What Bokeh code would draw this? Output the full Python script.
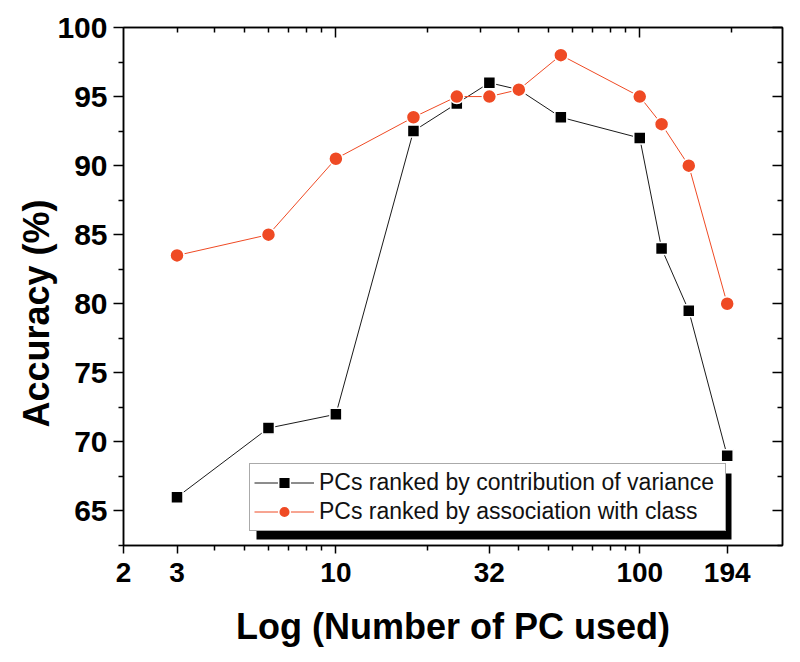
from bokeh.plotting import figure
from bokeh.models import (FixedTicker, LogAxis, LinearAxis, Legend, LegendItem, Range1d,
                          CustomJSTickFormatter, NumeralTickFormatter, BoxAnnotation, Title)
from bokeh.embed import file_html
from bokeh.resources import INLINE

# ---- data ----
pcs = [3, 6, 10, 18, 25, 32, 40, 55, 100, 118, 145, 194]
acc_variance = [66, 71, 72, 92.5, 94.5, 96, 95.5, 93.5, 92, 84, 79.5, 69]
acc_class = [83.5, 85, 90.5, 93.5, 95, 95, 95.5, 98, 95, 93, 90, 80]

label_variance = "PCs ranked by contribution of variance"
label_class = "PCs ranked by association with class"

x_major = [2, 3, 10, 32, 100, 194]
x_minor = [4, 5, 6, 7, 8, 9, 20, 40, 50, 60, 70, 80, 90]
top_major = [10, 100]
top_minor = [3, 4, 5, 6, 7, 8, 9, 20, 30, 40, 50, 60, 70, 80, 90, 200]
y_major = [65, 70, 75, 80, 85, 90, 95, 100]
y_minor = [62.5, 67.5, 72.5, 77.5, 82.5, 87.5, 92.5, 97.5]

RED = "#EF4A24"
BLACK = "#000000"
FONT = "Liberation Sans"

p = figure(width=800, height=662, x_axis_type="log",
           x_range=Range1d(2, 295), y_range=Range1d(62.5, 100),
           output_backend="svg", toolbar_location=None,
           min_border_left=123, min_border_right=18,
           min_border_top=27, min_border_bottom=117)
p.grid.visible = False
p.outline_line_color = "black"
p.outline_line_width = 1.5
p.background_fill_color = "white"
p.border_fill_color = "white"

# ---- bottom axis ----
xa = p.xaxis[0]
xa.ticker = FixedTicker(ticks=x_major, minor_ticks=x_minor)
xa.formatter = NumeralTickFormatter(format="0")
xa.major_tick_out = 8
xa.major_tick_in = 0
xa.minor_tick_out = 5
xa.minor_tick_in = 0
xa.axis_line_width = 1.5
xa.major_tick_line_width = 1.5
xa.minor_tick_line_width = 1.5
xa.major_label_text_font = FONT
xa.major_label_text_font_style = "bold"
xa.major_label_text_font_size = "28px"
xa.major_label_text_color = "black"
xa.major_label_standoff = 9
xa.axis_label = "Log (Number of PC used)"
xa.axis_label_text_font = FONT
xa.axis_label_text_font_style = "bold"
xa.axis_label_text_font_size = "36px"
xa.axis_label_text_color = "black"
xa.axis_label_standoff = 21

# ---- left axis ----
ya = p.yaxis[0]
ya.ticker = FixedTicker(ticks=y_major, minor_ticks=y_minor)
ya.major_tick_out = 10
ya.major_tick_in = 0
ya.minor_tick_out = 5
ya.minor_tick_in = 0
ya.axis_line_width = 1.5
ya.major_tick_line_width = 1.5
ya.minor_tick_line_width = 1.5
ya.major_label_text_font = FONT
ya.major_label_text_font_style = "bold"
ya.major_label_text_font_size = "30px"
ya.major_label_text_color = "black"
ya.major_label_standoff = 6

y_title = Title(text="Accuracy (%)", align="left", offset=118,
                text_font=FONT, text_font_style="bold", text_font_size="36px",
                text_color="black", standoff=-5)
p.add_layout(y_title, "left")

blank = CustomJSTickFormatter(code="return ''")

# ---- top mirror axis ----
top = LogAxis(ticker=FixedTicker(ticks=top_major, minor_ticks=top_minor), formatter=blank,
              major_tick_in=10, major_tick_out=0, minor_tick_in=5, minor_tick_out=0,
              axis_line_width=1.5, major_tick_line_width=1.5, minor_tick_line_width=1.5,
              major_label_standoff=0, major_label_text_font_size="1px")
p.add_layout(top, "above")

# ---- right mirror axis ----
right = LinearAxis(ticker=FixedTicker(ticks=y_major, minor_ticks=y_minor), formatter=blank,
                   major_tick_in=10, major_tick_out=0, minor_tick_in=5, minor_tick_out=0,
                   axis_line_width=1.5, major_tick_line_width=1.5, minor_tick_line_width=1.5,
                   major_label_standoff=0, major_label_text_font_size="1px")
p.add_layout(right, "right")

# ---- series ----
l1 = p.line(pcs, acc_variance, line_color="#1a1a1a", line_width=1)
s1 = p.scatter(pcs, acc_variance, marker="square", size=12, fill_color=BLACK,
               line_color="white", line_width=1.5)
l2 = p.line(pcs, acc_class, line_color=RED, line_width=1)
s2 = p.scatter(pcs, acc_class, marker="circle", size=14, fill_color=RED,
               line_color="white", line_width=1.5)

# ---- legend with drop shadow ----
LG_X, LG_Y = 126, 14          # legend box position relative to frame bottom-left
PAD, GLYPH_W, STANDOFF, LABEL_W, ROW_H = 4, 60, 5, 402, 29
LG_W = 2 * PAD + GLYPH_W + STANDOFF + LABEL_W
LG_H = 2 * PAD + 2 * ROW_H
SH_DX, SH_DY = 7, 8

shadow = BoxAnnotation(left=LG_X + SH_DX, right=LG_X + SH_DX + LG_W,
                       bottom=LG_Y - SH_DY, top=LG_Y - SH_DY + LG_H,
                       left_units="screen", right_units="screen",
                       top_units="screen", bottom_units="screen",
                       fill_color="black", fill_alpha=1.0, line_color="black",
                       line_width=0, level="annotation")
p.add_layout(shadow)

items = [LegendItem(label=label_variance, renderers=[l1, s1]),
         LegendItem(label=label_class, renderers=[l2, s2])]
legend = Legend(items=items, location=(LG_X, LG_Y), orientation="vertical",
                label_text_font=FONT, label_text_font_size="23px",
                label_text_color="#111111",
                glyph_width=GLYPH_W, glyph_height=ROW_H, label_height=ROW_H,
                label_width=LABEL_W,
                label_standoff=STANDOFF, padding=PAD, spacing=0, margin=0,
                background_fill_color="white", background_fill_alpha=1.0,
                border_line_color="#555555", border_line_width=1)
p.add_layout(legend, "center")

open("out.html", "w").write(file_html(p, INLINE))
